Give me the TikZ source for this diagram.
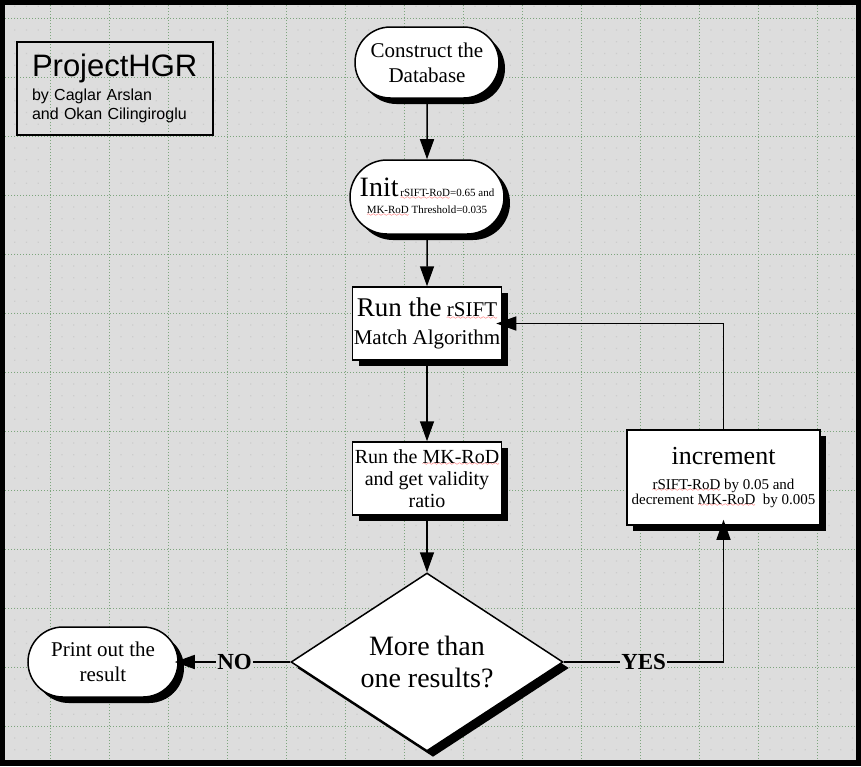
\documentclass[tikz,border=0pt]{standalone}
\usepackage{fontspec}
\setmainfont{Liberation Serif}
\newfontfamily\hgrfont{Liberation Sans}
\usetikzlibrary{positioning, shapes.geometric, shapes.misc, shadows, arrows.meta}
\definecolor{BgGray}{RGB}{221,221,221}
\definecolor{DotGray}{RGB}{204,204,204}
\definecolor{GridGreen}{RGB}{125,165,125}
\font\wavefont=lasy6
\newcommand\wavy[1]{\setbox0\hbox{#1}\rlap{\lower2.5pt\hbox to\wd0{\color{red}\xleaders\hbox{\wavefont\char58}\hfil}}\box0\relax}

\begin{document}
\begin{tikzpicture}[x=1pt,y=-1pt,
    blackshadow/.style={drop shadow={shadow xshift=6pt,shadow yshift=-6pt,fill=black,opacity=1}},
    term/.style={rounded rectangle,draw,line width=1.5pt,fill=white,blackshadow,inner sep=0pt,align=center},
    proc/.style={rectangle,draw,line width=1.5pt,fill=white,blackshadow,inner sep=0pt,align=center},
    flow/.style={line width=1.5pt,-{Triangle[length=20pt,width=14pt]}},
    answer/.style={fill=BgGray,inner sep=1pt,font=\fontsize{23}{23}\selectfont\bfseries}]
         \fill[black] (0,0) rectangle (861,766);
         \fill[BgGray] (5,5) rectangle (856,760);
         \fill[DotGray] \foreach \i in {-3,...,68} {\foreach \j in {-1,...,62} {({49.5+11.8*\i},{17.5+11.8*\j}) rectangle ++(1.2,1.2)}};
         \foreach \x in {50,109,...,817} \draw[GridGreen,line width=0.8pt,dash pattern=on 1pt off 2pt] (\x,5) -- (\x,760);
         \foreach \y in {18,77,...,726} \draw[GridGreen,line width=0.8pt,dash pattern=on 1pt off 2pt] (5,\y) -- (856,\y);
         \node[draw,line width=1.2pt,text width=166pt,inner xsep=15pt,minimum height=93pt,align=left,font=\hgrfont\fontsize{16}{19}\selectfont] (A) at (115,88.5) {{\fontsize{31}{31}\selectfont ProjectHGR}\\[5pt]by Caglar Arslan\\and Okan Cilingiroglu};
         \node[term,minimum width=144pt,minimum height=71pt,font=\fontsize{21}{25}\selectfont] (B) at (427,62.5) {Construct the\\Database};
         \node[term,minimum width=154pt,minimum height=74pt,font=\fontsize{11}{17}\selectfont] (C) at (427,197) {{\fontsize{28}{28}\selectfont Init}\,\wavy{rSIFT-RoD}=0.65 and\\\wavy{MK-RoD} Threshold=0.035};
         \node[proc,minimum width=149pt,minimum height=73pt,font=\fontsize{21}{28}\selectfont] (D) at (427,323.5) {{\fontsize{27}{28}\selectfont Run the} \wavy{rSIFT}\\Match Algorithm};
         \node[proc,minimum width=149pt,minimum height=73pt,font=\fontsize{20}{22}\selectfont] (E) at (427,478.5) {Run the \wavy{MK-RoD}\\and get validity\\ratio};
         \node[diamond,aspect=1.53,draw,line width=1.5pt,fill=white,blackshadow,inner sep=0pt,minimum width=272pt,minimum height=178pt,align=center,font=\fontsize{28}{32}\selectfont] (F) at (427,662) {More than\\one results?};
         \node[term,minimum width=150pt,minimum height=70pt,font=\fontsize{21}{25}\selectfont] (G) at (103,662) {Print out the\\result};
         \node[proc,minimum width=193pt,minimum height=95pt,font=\fontsize{15}{15}\selectfont] (H) at (723.5,477.5) {{\fontsize{26}{26}\selectfont increment}\\[10pt]\wavy{rSIFT-RoD} by 0.05 and\\decrement \wavy{MK-RoD}\ \ by 0.005};
         \draw[flow] (B) -- (C);
         \draw[flow] (C) -- (D);
         \draw[flow] (D) -- (E);
         \draw[flow] (E) -- (F);
         \draw[flow,shorten >=-4pt] (F.west) -- (G.east) node[answer,midway] {NO};
         \draw[flow,shorten >=-6pt] (F.east) -| (H.south) node[answer,pos=0.25] {YES};
         \draw[flow,shorten >=-6pt] (H.north) |- (D.east);
       \end{tikzpicture}
\end{document}
